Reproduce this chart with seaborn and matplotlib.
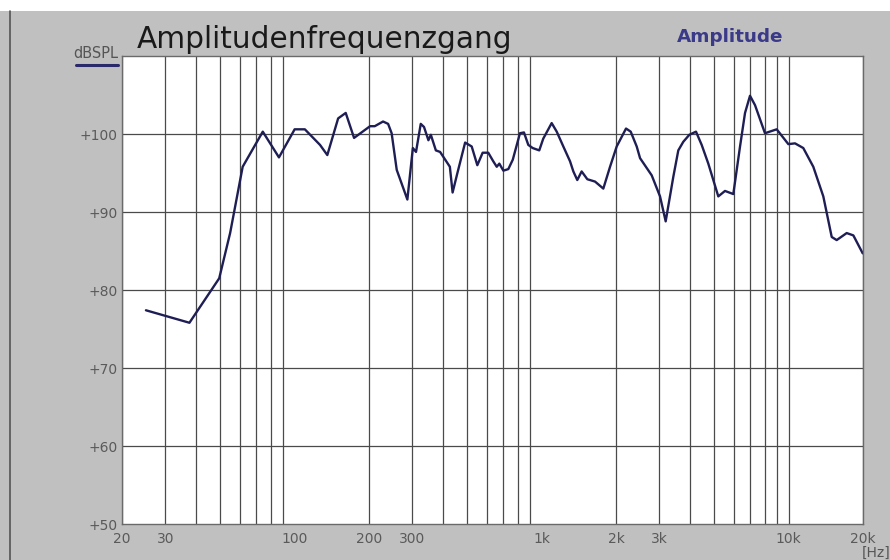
import matplotlib
matplotlib.use("Agg")
import matplotlib.pyplot as plt
import seaborn as sns
import pandas as pd
from matplotlib.patches import Rectangle
from matplotlib.lines import Line2D

# ---- data ----
freq_hz = [25, 37.5, 49.5, 54.8, 61.6, 74.3, 86.4, 100, 110, 126.7, 135.6, 150, 161, 174,
           202, 211, 228, 239, 247, 259, 286, 301, 310, 324, 334, 348, 356, 373, 388,
           425, 436, 456, 490, 521, 549, 577, 608, 637, 658, 674, 700, 733, 764, 817,
           848, 883, 920, 978, 1015, 1098, 1151, 1224, 1303, 1344, 1394, 1452, 1531,
           1645, 1777, 1892, 2013, 2196, 2294, 2426, 2503, 2790, 3015, 3178, 3412,
           3575, 3745, 3962, 4216, 4446, 4729, 5190, 5525, 5970, 6356, 6659, 6975,
           7309, 8020, 8947, 9972, 10611, 11463, 12584, 13815, 14940, 15650, 17180,
           18280, 19945]
spl_db = [77.4, 75.8, 81.5, 87.3, 95.8, 100.3, 97.0, 100.6, 100.6, 98.6, 97.3, 102.0, 102.7, 99.5,
          101.0, 101.0, 101.6, 101.3, 100.1, 95.4, 91.6, 98.2, 97.7, 101.3, 100.9, 99.2, 99.9, 97.9, 97.7,
          95.8, 92.5, 95.0, 98.9, 98.4, 96.0, 97.6, 97.6, 96.5, 95.8, 96.2, 95.3, 95.5, 96.7, 100.1,
          100.2, 98.6, 98.2, 97.9, 99.4, 101.4, 100.3, 98.4, 96.5, 95.2, 94.1, 95.2, 94.2,
          93.9, 93.0, 95.8, 98.4, 100.7, 100.3, 98.4, 96.9, 94.7, 92.0, 88.8, 94.5,
          97.9, 99.0, 99.9, 100.3, 98.6, 96.2, 92.0, 92.7, 92.3, 98.4, 102.7, 104.9,
          103.7, 100.1, 100.6, 98.7, 98.8, 98.2, 95.8, 92.0, 86.8, 86.4, 87.3,
          87.0, 84.7]

x_tick_values = [20, 30, 100, 200, 300, 1000, 2000, 3000, 10000, 20000]
x_tick_labels = ["20", "30", "100", "200", "300", "1k", "2k", "3k", "10k", "20k"]
y_tick_values = [50, 60, 70, 80, 90, 100]
y_tick_labels = ["+50", "+60", "+70", "+80", "+90", "+100"]
grid_freqs = [f * m for m in (10, 100, 1000) for f in range(2, 10)] + [10000, 20000]

title_text = "Amplitudenfrequenzgang"
legend_text = "Amplitude"
y_unit = "dBSPL"
x_unit = "[Hz]"

df = pd.DataFrame({"freq": freq_hz, "spl": spl_db})

# ---- style ----
sns.set_style("white")
plt.rcParams["font.family"] = ["DejaVu Sans"]

W, H = 890, 560
fig = plt.figure(figsize=(W / 100, H / 100), dpi=100)
fig.patch.set_facecolor("#c0c0c0")

# white strip on top and dark frame line at the left
fig.patches.append(Rectangle((0, 1 - 11 / H), 1, 11 / H, transform=fig.transFigure,
                             facecolor="white", edgecolor="none", zorder=0))
fig.lines.append(Line2D([10 / W, 10 / W], [0, 1 - 11 / H], transform=fig.transFigure,
                        color="#555555", lw=1.2))

ax = fig.add_axes([122 / W, 1 - 524 / H, (863 - 122) / W, (524 - 56) / H])
ax.set_facecolor("white")

sns.lineplot(data=df, x="freq", y="spl", ax=ax, color="#1e1e55", lw=1.7,
             estimator=None, sort=False, legend=False)

ax.set_xscale("log")
ax.set_xlim(20, 20000)
ax.set_ylim(50, 110)

ax.set_xticks(x_tick_values)
ax.set_xticklabels(x_tick_labels)
ax.set_xticks(grid_freqs, minor=True)
ax.set_xticklabels([], minor=True)
ax.set_yticks(y_tick_values)
ax.set_yticklabels(y_tick_labels)

for f in grid_freqs:
    ax.axvline(f, color="#4a4a4a", lw=0.9, zorder=1)
for v in y_tick_values[1:]:
    ax.axhline(v, color="#4a4a4a", lw=0.9, zorder=1)

ax.tick_params(axis="both", which="both", length=0, colors="#5a5a5a", labelsize=10)
ax.tick_params(axis="x", pad=6)
ax.tick_params(axis="y", pad=3)
ax.set_xlabel("")
ax.set_ylabel("")
for s in ax.spines.values():
    s.set_color("#6a6a6a")
    s.set_linewidth(1.0)

# texts
fig.text(137 / W, 1 - 48 / H, title_text, fontsize=21.3, color="#1a1a1a",
         ha="left", va="baseline")
fig.text(677 / W, 1 - 42 / H, legend_text, fontsize=13.2, color="#3a3a88",
         fontweight="semibold", ha="left", va="baseline")
fig.text(118 / W, 1 - 58 / H, y_unit, fontsize=10.5, color="#555555",
         ha="right", va="baseline")
fig.lines.append(Line2D([76 / W, 118 / W], [1 - 65 / H, 1 - 65 / H], transform=fig.transFigure,
                        color="#2a2a6a", lw=2.2))
fig.text(862 / W, 1 - 553 / H, x_unit, fontsize=10, color="#555555",
         ha="left", va="center")

fig.savefig("out.png", dpi=100, facecolor=fig.get_facecolor())
